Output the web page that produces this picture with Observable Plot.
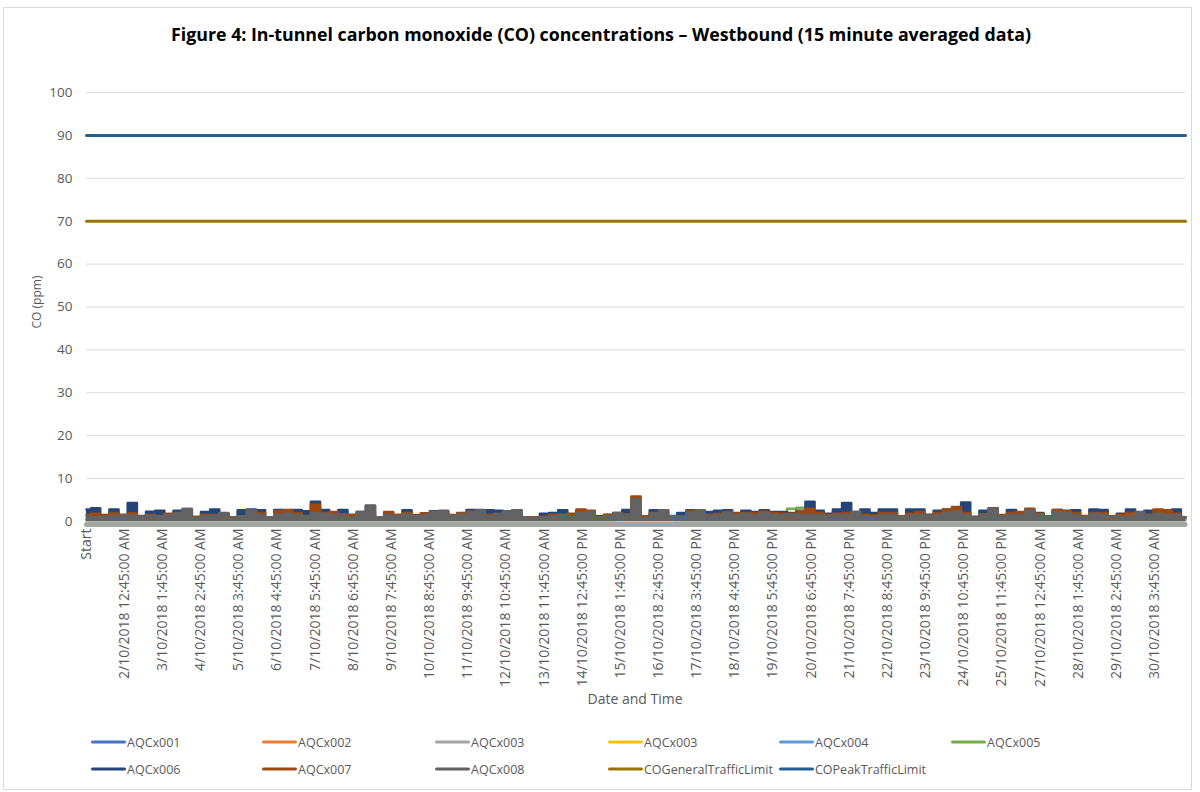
<!DOCTYPE html>
<html><head><meta charset="utf-8">
<script src="https://cdn.jsdelivr.net/npm/d3@7"></script>
<script src="https://cdn.jsdelivr.net/npm/@observablehq/plot@0.6"></script>
<style>
body{margin:0;background:#fff;font-family:"Open Sans",sans-serif;}
#wrap{position:relative;width:1200px;height:792px;overflow:hidden;background:#fff;}
#frame{position:absolute;left:3px;top:7px;width:1187px;height:781px;border:1px solid #d9d9d9;}
#title{position:absolute;top:22px;left:0;width:1202px;text-align:center;font-weight:bold;font-size:17.8px;color:#000;}
#chart{position:absolute;left:0;top:0;}
#ytitle{position:absolute;left:36px;top:302px;transform:translate(-50%,-50%) rotate(-90deg);font-size:12px;color:#595959;white-space:nowrap;}
#xtitle{position:absolute;left:635px;top:698px;transform:translate(-50%,-50%);font-size:14px;color:#595959;white-space:nowrap;}
.leg{position:absolute;display:flex;align-items:center;font-size:12.5px;color:#595959;white-space:nowrap;transform:translateY(-50%);}
.leg .sw{display:inline-block;width:35px;height:3px;border-radius:2px;margin-right:1px;}
</style></head>
<body>
<div id="wrap">
  <div id="frame"></div>
  <div id="chart"></div>
  <div id="title">Figure 4: In-tunnel carbon monoxide (CO) concentrations – Westbound (15 minute averaged data)</div>
  <div id="ytitle">CO (ppm)</div>
  <div id="xtitle">Date and Time</div>
  <div id="legend"></div>
</div>
<script>
// ---- DATA ----
// x axis: 15-minute interval index (Excel category axis), labels every 100 intervals
const tickIndex = [0, 99, 199, 299, 399, 499, 599, 699, 799, 899, 999, 1099, 1199, 1299, 1399, 1499, 1599, 1699, 1799, 1899, 1999, 2099, 2199, 2299, 2399, 2499, 2599, 2699, 2799];
const tickLabels = ["Start", "2/10/2018 12:45:00 AM", "3/10/2018 1:45:00 AM", "4/10/2018 2:45:00 AM", "5/10/2018 3:45:00 AM",
  "6/10/2018 4:45:00 AM", "7/10/2018 5:45:00 AM", "8/10/2018 6:45:00 AM", "9/10/2018 7:45:00 AM", "10/10/2018 8:45:00 AM",
  "11/10/2018 9:45:00 AM", "12/10/2018 10:45:00 AM", "13/10/2018 11:45:00 AM", "14/10/2018 12:45:00 PM", "15/10/2018 1:45:00 PM",
  "16/10/2018 2:45:00 PM", "17/10/2018 3:45:00 PM", "18/10/2018 4:45:00 PM", "19/10/2018 5:45:00 PM", "20/10/2018 6:45:00 PM",
  "21/10/2018 7:45:00 PM", "22/10/2018 8:45:00 PM", "23/10/2018 9:45:00 PM", "24/10/2018 10:45:00 PM", "25/10/2018 11:45:00 PM",
  "27/10/2018 12:45:00 AM", "28/10/2018 1:45:00 AM", "29/10/2018 2:45:00 AM", "30/10/2018 3:45:00 AM"];
const totalIntervals = 2880;
const yTicks = [0, 10, 20, 30, 40, 50, 60, 70, 80, 90, 100];

// main series read every 6 hours (24 intervals)
const mainStep = 24;
const AQCx006 = [2.8, 3.1, 1.3, 2.8, 1.2, 4.3, 1.3, 2.3, 2.5, 1.5, 2.5, 2.9, 1.0, 2.2, 2.8,
  1.8, 0.9, 2.6, 2.8, 2.6, 1.0, 2.7, 2.7, 2.7, 2.4, 4.6, 2.7, 2.0, 2.7, 1.3,
  2.2, 3.7, 1.0, 1.5, 1.2, 2.6, 1.3, 1.6, 2.4, 2.2, 1.3, 2.0, 2.7, 2.7, 2.6,
  2.5, 2.4, 2.6, 0.9, 0.8, 1.8, 2.0, 2.6, 1.5, 2.6, 2.3, 1.2, 1.5, 2.0, 2.7,
  5.0, 1.0, 2.6, 2.6, 1.0, 2.0, 2.6, 2.6, 2.2, 2.5, 2.6, 1.8, 2.5, 2.2, 2.6, 2.2,
  2.2, 2.0, 2.5, 4.6, 2.5, 1.8, 2.8, 4.3, 2.0, 2.8, 2.0, 2.8, 2.8, 1.2, 2.8,
  2.8, 1.6, 2.5, 2.8, 3.0, 4.4, 1.1, 2.5, 3.1, 1.4, 2.7, 1.8, 2.6, 2.0, 1.2,
  2.7, 2.5, 2.6, 1.2, 2.8, 2.7, 1.2, 1.8, 2.8, 2.0, 2.5, 2.2, 2.4, 2.8, 1.0];
const AQCx007 = [1.5, 1.8, 1.5, 2.0, 1.6, 1.9, 1.2, 1.6, 1.3, 1.8, 1.6, 2.5, 1.1, 1.6, 1.5,
  1.8, 1.0, 1.2, 2.6, 2.0, 1.0, 2.4, 2.6, 2.0, 1.3, 3.9, 2.0, 2.2, 1.7, 1.6,
  1.5, 2.0, 1.0, 2.2, 1.6, 2.0, 1.5, 1.9, 2.0, 1.8, 1.5, 1.9, 2.3, 2.0, 1.6,
  1.6, 1.8, 2.0, 1.0, 1.0, 1.1, 1.6, 1.6, 1.8, 2.8, 2.5, 1.0, 1.6, 1.6, 1.7,
  5.8, 1.2, 1.8, 2.2, 1.3, 1.2, 2.4, 2.0, 1.6, 1.8, 2.2, 2.0, 2.0, 2.0, 2.3, 2.0,
  1.8, 1.8, 2.4, 3.0, 2.0, 1.5, 1.8, 2.0, 1.5, 1.6, 1.4, 2.0, 2.0, 1.2, 1.8,
  2.2, 1.4, 2.0, 2.8, 3.4, 2.0, 1.0, 1.7, 3.0, 1.5, 2.0, 2.2, 3.0, 1.8, 1.2,
  2.7, 2.4, 2.0, 1.3, 2.0, 2.0, 1.2, 1.5, 2.0, 1.8, 1.6, 2.8, 2.6, 1.8, 1.0];
const AQCx008 = [1.2, 1.0, 1.1, 1.4, 1.4, 1.4, 1.1, 1.4, 1.2, 1.5, 2.0, 2.9, 0.8, 1.3, 1.4,
  2.0, 0.8, 1.2, 2.5, 1.5, 1.0, 1.6, 1.8, 1.6, 1.2, 2.0, 1.8, 1.6, 1.4, 0.9,
  2.2, 3.7, 1.0, 1.5, 1.2, 1.7, 1.2, 1.5, 2.2, 2.5, 1.2, 1.6, 2.2, 2.6, 1.2,
  1.8, 2.4, 2.6, 0.9, 0.8, 1.0, 1.2, 1.5, 1.0, 2.0, 2.2, 1.0, 1.2, 2.0, 1.6,
  5.2, 0.9, 2.0, 2.6, 1.2, 1.0, 2.0, 2.6, 1.4, 1.5, 2.0, 1.5, 1.8, 1.4, 2.0, 1.6,
  1.4, 1.5, 1.6, 1.6, 1.5, 1.2, 1.5, 1.5, 2.3, 1.2, 1.1, 1.5, 1.6, 1.0, 1.4,
  1.6, 1.2, 1.5, 2.0, 2.4, 1.5, 0.9, 1.6, 3.0, 1.2, 1.6, 1.5, 2.6, 1.5, 1.0,
  2.2, 2.0, 1.6, 1.0, 1.8, 1.6, 1.0, 1.2, 1.7, 2.2, 1.4, 1.8, 1.6, 1.5, 0.9];

// minor series, read at sparse interval indices
const minorIndex = [0, 192, 384, 576, 768, 960, 1152, 1344, 1432, 1436, 1448, 1632, 1824, 1848, 1872, 1896, 2112, 2304, 2496, 2688, 2879];
const AQCx001 = [0.4, 0.4, 0.5, 0.4, 0.4, 0.5, 0.4, 0.4, 0.4, 0.4, 0.4, 0.5, 0.4, 0.4, 0.4, 0.4, 0.5, 0.4, 0.4, 0.4, 0.4];
const AQCx002 = [0.6, 0.6, 0.7, 0.6, 0.6, 0.6, 0.6, 0.6, 0.6, 0.6, 0.6, 0.7, 0.6, 0.6, 0.6, 0.6, 0.6, 0.6, 0.7, 0.6, 0.6];
const AQCx003a = [0, 0, 0, 0, 0, 0, 0, 0, 0, 0, 0, 0, 0, 0, 0, 0, 0, 0, 0, 0, 0];
const AQCx003b = [0.3, 0.3, 0.3, 0.3, 0.3, 0.3, 0.3, 0.3, 0.4, 5.6, 0.4, 0.3, 0.3, 0.3, 0.3, 0.3, 0.3, 0.3, 0.3, 0.3, 0.3];
const AQCx004 = [0.3, 0.3, 0.3, 0.3, 0.3, 0.3, 0.3, 0.3, 0.3, 0.3, 0.3, 0.3, 0.3, 0.3, 0.3, 0.3, 0.3, 0.3, 0.3, 0.3, 0.3];
const AQCx005 = [0.5, 0.5, 0.5, 0.5, 0.5, 0.5, 0.5, 0.5, 0.5, 0.5, 0.5, 0.5, 0.6, 3.0, 3.2, 0.6, 0.5, 0.5, 0.5, 0.5, 0.5];

// limits
const limitIndex = [0, 2880];
const COGeneralTrafficLimit = [70, 70];
const COPeakTrafficLimit = [90, 90];

const seriesNames = ["AQCx001", "AQCx002", "AQCx003", "AQCx003", "AQCx004", "AQCx005", "AQCx006", "AQCx007", "AQCx008", "COGeneralTrafficLimit", "COPeakTrafficLimit"];
const seriesColors = ["#4472C4", "#ED7D31", "#A5A5A5", "#FFC000", "#5B9BD5", "#70AD47", "#264478", "#9E480E", "#636363", "#997300", "#255E91"];

// ---- BUILD ----
const mainRows = (vals) => vals.map((v, k) => ({i: k * mainStep, v}));
const minorRows = (vals) => vals.map((v, k) => ({i: minorIndex[k], v}));
const limitRows = (vals) => vals.map((v, k) => ({i: limitIndex[k], v}));
const labelOf = new Map(tickIndex.map((t, j) => [t, tickLabels[j]]));

const minorSets = [[AQCx001, 0], [AQCx002, 1], [AQCx003b, 3], [AQCx004, 4], [AQCx005, 5]];
const mainSets = [[AQCx006, 6], [AQCx007, 7], [AQCx008, 8]];
const crv = "step";

const marks = [
  Plot.gridY(yTicks.filter(d => d > 0), {stroke: "#d9d9d9", strokeOpacity: 1, strokeWidth: 1}),
  Plot.lineY(minorRows(AQCx003a), {x: "i", y: "v", stroke: seriesColors[2], strokeWidth: 5, dy: 3}),
  ...minorSets.map(([vals, c]) => Plot.lineY(minorRows(vals), {x: "i", y: "v", stroke: seriesColors[c], strokeWidth: 2.5, curve: crv})),
  ...mainSets.flatMap(([vals, c]) => [
    Plot.areaY(mainRows(vals), {x: "i", y: "v", fill: seriesColors[c], fillOpacity: 1, curve: crv}),
    Plot.lineY(mainRows(vals), {x: "i", y: "v", stroke: seriesColors[c], strokeWidth: 2.5, curve: crv})
  ]),
  Plot.lineY(limitRows(COGeneralTrafficLimit), {x: "i", y: "v", stroke: seriesColors[9], strokeWidth: 3}),
  Plot.lineY(limitRows(COPeakTrafficLimit), {x: "i", y: "v", stroke: seriesColors[10], strokeWidth: 3}),
  Plot.axisY({ticks: yTicks, tickSize: 0, tickPadding: 14, label: null, fontSize: 13.5}),
  Plot.axisX({ticks: tickIndex, tickFormat: d => labelOf.get(d), tickRotate: -90, tickSize: 0, tickPadding: 7, label: null, fontSize: 14})
];

const chart = Plot.plot({
  width: 1200, height: 720,
  marginTop: 92, marginBottom: 199, marginLeft: 86, marginRight: 15,
  x: {domain: [0, totalIntervals], axis: null},
  y: {domain: [0, 100], axis: null},
  style: {fontFamily: "Open Sans, sans-serif", color: "#595959", background: "transparent", overflow: "visible"},
  marks
});
document.getElementById("chart").appendChild(chart);

// legend
const legPos = [[91, 742], [262, 742], [435, 742], [608, 742], [779, 742], [951, 742],
                [91, 769], [262, 769], [435, 769], [608, 769], [779, 769]];
const legend = document.getElementById("legend");
seriesNames.forEach((name, j) => {
  const el = document.createElement("div");
  el.className = "leg";
  el.style.left = legPos[j][0] + "px";
  el.style.top = legPos[j][1] + "px";
  el.innerHTML = `<span class="sw" style="background:${seriesColors[j]}"></span>${name}`;
  legend.appendChild(el);
});
</script>
</body></html>
